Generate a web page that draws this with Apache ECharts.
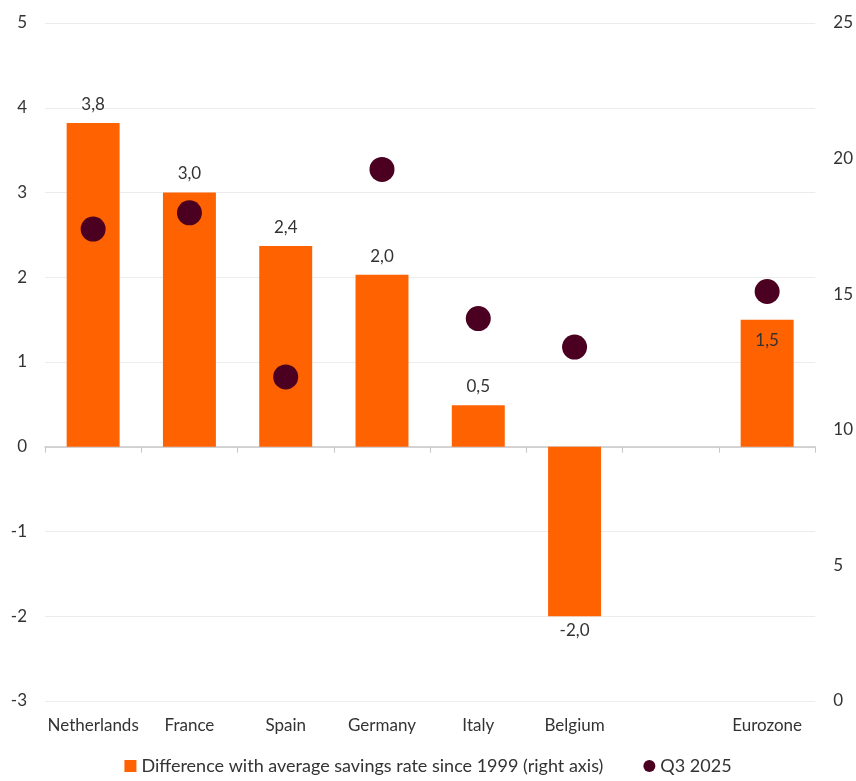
<!DOCTYPE html>
<html>
<head>
<meta charset="utf-8">
<script src="https://cdn.jsdelivr.net/npm/echarts@6/dist/echarts.min.js"></script>
<style>
  html, body { margin: 0; padding: 0; background: #fff; }
  #chart { width: 856px; height: 781px; }
</style>
</head>
<body>
<div id="chart"></div>
<script>
/* data */
var countries = ['Netherlands', 'France', 'Spain', 'Germany', 'Italy', 'Belgium', '', 'Eurozone'];
var diffValues = [3.82, 3.0, 2.37, 2.03, 0.49, -2.0, null, 1.5];
var q3Values = [17.4, 18.0, 11.95, 19.6, 14.1, 13.05, null, 15.1];
var diffName = 'Difference with average savings rate since 1999 (right axis)';
var q3Name = 'Q3 2025';

var orange = '#ff6200';
var maroon = '#4b0021';
var font = 'Lato';

(function () {
  var myChart = echarts.init(document.getElementById('chart'));

  // bar labels: above for positive, below for negative, inside for Eurozone
  var barData = diffValues.map(function (v, i) {
    if (v === null) return null;
    var pos = v < 0 ? 'bottom' : 'top';
    var dist = v < 0 ? 6 : 10;
    if (countries[i] === 'Eurozone') { pos = 'insideTop'; dist = 12; }
    return { value: v, label: { position: pos, distance: dist } };
  });

  var option = {
    textStyle: { fontFamily: font },
    animation: false,
    grid: { left: 45, right: 39, top: 23, bottom: 80 },
    legend: {
      bottom: 1,
      left: 'center',
      itemWidth: 12,
      itemHeight: 12,
      itemGap: 40,
      textStyle: { fontSize: 18, color: '#333', fontFamily: font },
      data: [
        { name: diffName, icon: 'rect' },
        { name: q3Name, icon: 'circle' }
      ]
    },
    xAxis: [
      {
        // zero line with ticks
        type: 'category',
        data: countries,
        axisLine: { onZero: true, lineStyle: { color: '#c8c8c8', width: 1.5 } },
        axisTick: { show: true, length: 6, lineStyle: { color: '#c8c8c8' } },
        axisLabel: { show: false }
      },
      {
        // labels at the bottom
        type: 'category',
        data: countries,
        position: 'bottom',
        axisLine: { show: false, onZero: false },
        axisTick: { show: false },
        axisLabel: { color: '#333', fontSize: 17, margin: 16, interval: 0, fontFamily: font }
      }
    ],
    yAxis: [
      {
        type: 'value',
        min: -3, max: 5, interval: 1,
        axisLine: { show: false },
        axisTick: { show: false },
        axisLabel: { color: '#333', fontSize: 17, margin: 18, fontFamily: font },
        splitLine: { lineStyle: { color: '#ececec', width: 1 } }
      },
      {
        type: 'value',
        min: 0, max: 25, interval: 5,
        position: 'right',
        axisLine: { show: false },
        axisTick: { show: false },
        axisLabel: { color: '#333', fontSize: 17, margin: 18, fontFamily: font },
        splitLine: { show: false }
      }
    ],
    series: [
      {
        name: diffName,
        type: 'bar',
        xAxisIndex: 0,
        yAxisIndex: 0,
        barWidth: '55%',
        data: barData,
        itemStyle: { color: orange },
        label: {
          show: true,
          color: '#333',
          fontSize: 17,
          fontFamily: font,
          formatter: function (p) { return p.value.toFixed(1).replace('.', ','); }
        },
        z: 2
      },
      {
        name: q3Name,
        type: 'scatter',
        xAxisIndex: 0,
        yAxisIndex: 1,
        symbol: 'circle',
        symbolSize: 25,
        data: q3Values,
        itemStyle: { color: maroon, opacity: 1 },
        z: 3
      }
    ]
  };
  myChart.setOption(option);
  window.addEventListener('resize', function () {
    myChart.resize();
  });
})();
</script>
</body>
</html>
